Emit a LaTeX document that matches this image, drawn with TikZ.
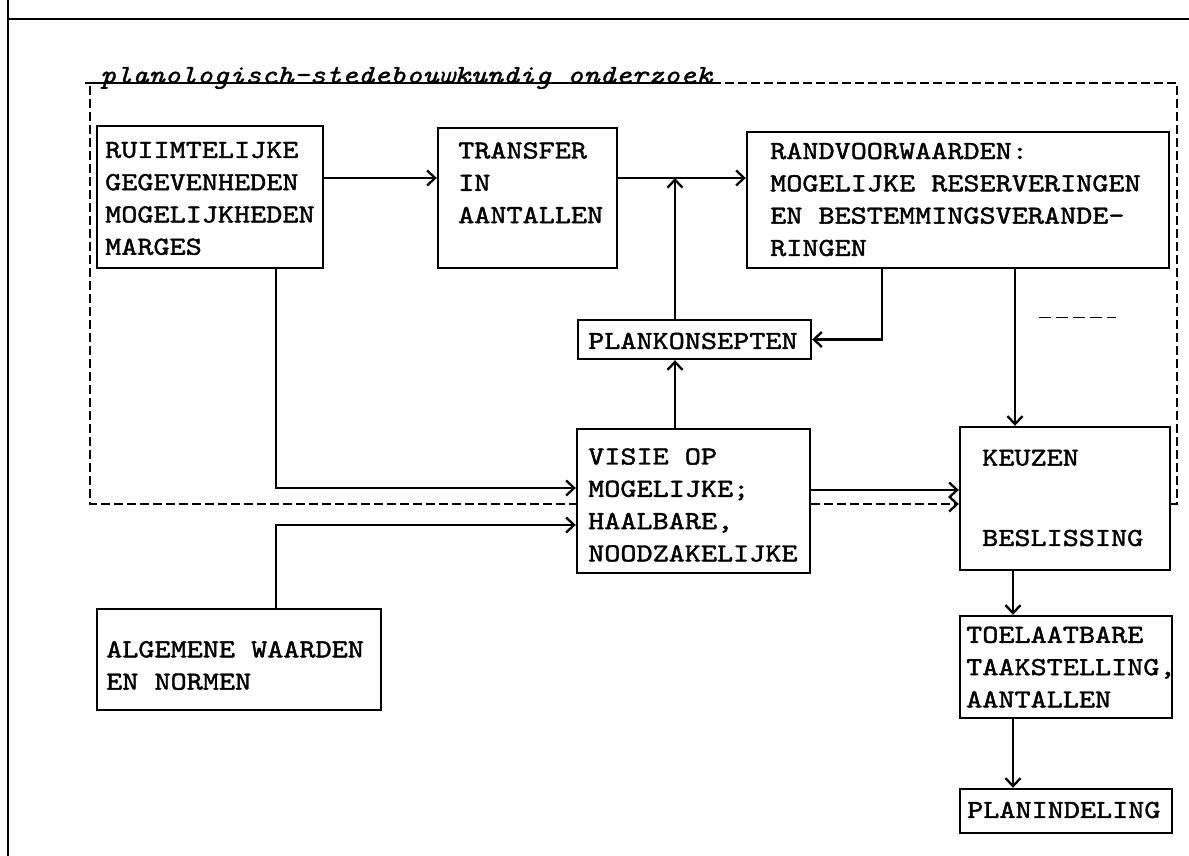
\documentclass[tikz,border=0pt]{standalone}
\usepackage{fontspec}
\newfontfamily\tw[FakeStretch=1.18,FakeBold=1.6]{lmmono10-regular.otf}
\newfontfamily\twit[FakeStretch=1.18,FakeBold=1.2]{lmmono10-italic.otf}
\usetikzlibrary{arrows.meta}
\begin{document}
\begin{tikzpicture}[x=1pt,y=-1pt,
  box/.style={draw, line width=2.4pt, inner sep=0pt},
  txt/.style={font=\tw\fontsize{26}{32.3}\selectfont, align=left, inner sep=0pt, anchor=west},
  arr/.style={line width=2.3pt, -{Straight Barb[length=8pt,width=15pt]}},
  dsh/.style={line width=2.3pt, dash pattern=on 9pt off 4pt},
]
\useasboundingbox (0,0) rectangle (1189,856);
\fill[white] (0,0) rectangle (1189,856);

% outer frame lines
\coordinate (oTop) at (8,0);
\coordinate (oBot) at (8,856);
\coordinate (oR) at (1189,19);
\coordinate (oL) at (8,19);
\draw[line width=2.4pt] (oTop) -- (oBot);
\draw[line width=2.4pt] (oL) -- (oR);

% boxes
\node[box, minimum width=226pt, minimum height=142pt] (ruim)   at (210,197) {};
\node[box, minimum width=179pt, minimum height=140pt] (trans)  at (527.5,198) {};
\node[box, minimum width=422pt, minimum height=136pt] (rand)   at (958,200) {};
\node[box, minimum width=233pt, minimum height=39pt]  (plank)  at (694.5,339.5) {};
\node[box, minimum width=233pt, minimum height=144pt] (visie)  at (693.5,501) {};
\node[box, minimum width=210pt, minimum height=143pt] (keuzen) at (1065,498.5) {};
\node[box, minimum width=284pt, minimum height=101pt] (alg)    at (239,659.5) {};
\node[box, minimum width=212pt, minimum height=102pt] (toel)   at (1066,667) {};
\node[box, minimum width=212pt, minimum height=44pt]  (plind)  at (1066,811) {};

% texts
\node[txt] (ruimT)  at (105,198.5) {RUIIMTELIJKE\\GEGEVENHEDEN\\MOGELIJKHEDEN\\MARGES};
\node[txt] (transT) at (458,182.7) {TRANSFER\\IN\\AANTALLEN};
\node[txt] (randT)  at (770,199.5) {RANDVOORWAARDEN:\\MOGELIJKE RESERVERINGEN\\EN BESTEMMINGSVERANDE-\\RINGEN};
\node[txt] (plankT) at (588,341) {PLANKONSEPTEN};
\node[txt] (visieT) at (588,505) {VISIE OP\\MOGELIJKE;\\HAALBARE,\\NOODZAKELIJKE};
\node[txt] (keuzT)  at (982,498) {KEUZEN\\[48pt]BESLISSING};
\node[txt] (algT)   at (106,665.5) {ALGEMENE WAARDEN\\EN NORMEN};
\node[txt] (toelT)  at (966,667) {TOELAATBARE\\TAAKSTELLING,\\AANTALLEN};
\node[txt] (plindT) at (967,810) {PLANINDELING};

% label of the dashed frame
\node[font=\twit\fontsize{26}{32}\selectfont, anchor=base west, inner sep=0pt] (lab) at (100,83) {planologisch-stedebouwkundig onderzoek};
\draw[line width=1.6pt] ([xshift=-15pt]lab.base west) -- (lab.base east);

% helper coordinates
\coordinate (fTR) at (1177,83);
\coordinate (fBR) at (1177,504);
\coordinate (fTL) at (90,86);
\coordinate (fBL) at (90,504);
\coordinate (h178) at (0,178);
\coordinate (h488) at (0,488);
\coordinate (h525) at (0,525);
\coordinate (h490) at (0,490);
\coordinate (h504) at (0,504);
\coordinate (v675) at (675,0);
\coordinate (v882) at (882,0);
\coordinate (v1015) at (1015,0);
\coordinate (v1013) at (1013,0);
\coordinate (v276) at (276,0);
\coordinate (j1) at (675,178);

% dashed frame
\draw[dsh] (lab.base east) -- (fTR) -- (fBR) -- (keuzen.east |- fBR);
\draw[dsh] (fTL) -- (fBL) -- (visie.west |- fBL);

% connectors
\draw[arr] (ruim.east |- h178) -- (trans.west |- h178);
\draw[arr] (trans.east |- h178) -- (rand.west |- h178);
\draw[arr] (plank.north -| v675) -- (j1);
\draw[arr] (visie.north -| v675) -- (plank.south -| v675);
\draw[arr] (rand.south -| v882) |- (plank.east);
\draw[arr] (rand.south -| v1015) -- (keuzen.north -| v1015);
\draw[arr] (ruim.south -| v276) |- (visie.west |- h488);
\draw[arr] (alg.north -| v276) |- (visie.west |- h525);
\draw[arr] (visie.east |- h490) -- (keuzen.west |- h490);
\draw[dsh, -{Straight Barb[length=8pt,width=15pt]}] (visie.east |- h504) -- (keuzen.west |- h504);
\draw[arr] (keuzen.south -| v1013) -- (toel.north -| v1013);
\draw[arr] (toel.south -| v1013) -- (plind.north -| v1013);

% small stray dashed mark
\coordinate (s1) at (1039,317);
\coordinate (s2) at (1116,317);
\draw[line width=1pt, dash pattern=on 12pt off 5pt] (s1) -- (s2);
\end{tikzpicture}
\end{document}
